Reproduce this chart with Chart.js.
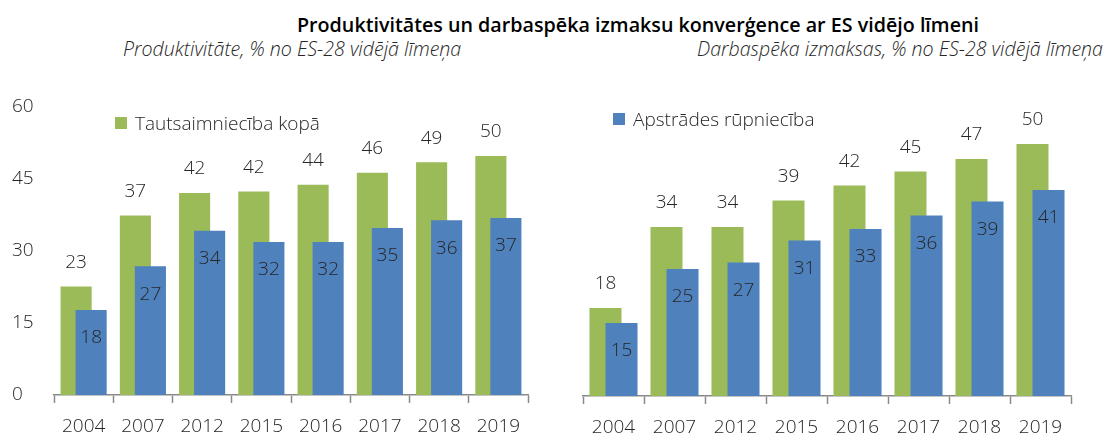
<!DOCTYPE html>
<html lang="lv">
<head>
<meta charset="UTF-8">
<title>Produktivitātes un darbaspēka izmaksu konverģence</title>
<script src="https://cdn.jsdelivr.net/npm/chart.js"></script>
<style>
body { margin: 0; background: #fff; font-family: "Open Sans", sans-serif; color: #262626; }
.wrap { position: relative; width: 1105px; height: 436px; overflow: hidden; }
.txt { position: absolute; white-space: nowrap; line-height: 1; }
.title { left: 297px; top: 15px; font-size: 19.7px; font-weight: 600; color: #000; }
.sub { top: 39px; font-size: 19.6px; font-style: italic; font-weight: 300; color: #262626; }
.legend { font-size: 19px; font-weight: 300; color: #262626; }
.legend i { display: inline-block; width: 12px; height: 12px; margin-right: 8px; vertical-align: 1px; }
.panel { position: absolute; top: 0; }
</style>
</head>
<body>
<div class="wrap">
    <div class="txt title">Produktivitātes un darbaspēka izmaksu konverģence ar ES vidējo līmeni</div>
    <div class="txt sub" style="left:123px">Produktivitāte, % no ES-28 vidējā līmeņa</div>
    <div class="txt sub" style="left:697px">Darbaspēka izmaksas, % no ES-28 vidējā līmeņa</div>

    <div class="panel" style="left:0"><canvas id="prodChart" width="555" height="436"></canvas></div>
    <div class="panel" style="left:555px"><canvas id="costChart" width="550" height="436"></canvas></div>

    <div class="txt legend" style="left:115px; top:114px"><i style="background:#9BBB59"></i>Tautsaimniecība kopā</div>
    <div class="txt legend" style="left:613px; top:110px"><i style="background:#4F81BD"></i>Apstrādes rūpniecība</div>
</div>
<script>
    const years = ['2004', '2007', '2012', '2015', '2016', '2017', '2018', '2019'];
    // Produktivitāte
    const prodTotal = [22.6, 37.4, 42.1, 42.4, 43.8, 46.3, 48.5, 49.8];
    const prodManuf = [17.7, 26.8, 34.2, 31.9, 31.9, 34.8, 36.4, 36.9];
    const prodTicks = [0, 15, 30, 45, 60];
    // Darbaspēka izmaksas
    const costTotal = [17.6, 33.8, 33.8, 39.1, 42.1, 44.9, 47.4, 50.4];
    const costManuf = [14.6, 25.4, 26.7, 31.1, 33.4, 36.1, 38.9, 41.2];
    const costMax = 57.8;

    const GREEN = '#9BBB59';
    const BLUE = '#4F81BD';
    const AXIS = '#898989';
    const TEXT = '#262626';
    const FONT = { family: '"Open Sans", sans-serif', size: 19, weight: 300 };

    // Chart.js zīmē pirmo datu kopu pēdējo - gribam zilo virspusē
    const blueOnTop = {
        id: 'blueOnTop',
        beforeDatasetDraw(chart, args) {
            if (args.index === 1) return false;
        },
        afterDatasetDraw(chart, args) {
            if (args.index === 0) chart.getDatasetMeta(1).controller.draw();
        }
    };

    // skaitļi virs zaļajiem un stabiņu iekšpusē zilajiem
    const valueLabels = {
        id: 'valueLabels',
        afterDatasetsDraw(chart) {
            const ctx = chart.ctx;
            ctx.save();
            ctx.font = '300 19px "Open Sans", sans-serif';
            ctx.fillStyle = TEXT;
            ctx.textAlign = 'center';
            ctx.textBaseline = 'middle';
            chart.data.datasets.forEach((ds, i) => {
                chart.getDatasetMeta(i).data.forEach((bar, j) => {
                    const y = i === 0 ? bar.y - 24 : bar.y + 28;
                    ctx.fillText(Math.round(ds.data[j]), bar.x, y);
                });
            });
            ctx.restore();
        }
    };

    function makeChart(id, total, manuf, opts) {
        return new Chart(document.getElementById(id), {
            type: 'bar',
            data: {
                labels: years,
                datasets: [
                    { label: 'Tautsaimniecība kopā', data: total, backgroundColor: GREEN },
                    { label: 'Apstrādes rūpniecība', data: manuf, backgroundColor: BLUE }
                ]
            },
            options: {
                responsive: false,
                animation: false,
                categoryPercentage: opts.cat,
                barPercentage: opts.bar,
                layout: { padding: opts.padding },
                plugins: { legend: { display: false }, tooltip: { enabled: false } },
                scales: {
                    x: {
                        grid: { display: true, drawOnChartArea: false, offset: true, tickLength: 8, tickColor: AXIS, tickWidth: 1.5 },
                        border: { display: true, color: AXIS, width: 1.5 },
                        ticks: { color: TEXT, font: FONT, padding: 12 },
                        afterFit(s) { s.height = opts.xHeight; }
                    },
                    y: opts.y
                }
            },
            plugins: [blueOnTop, valueLabels]
        });
    }

    makeChart('prodChart', prodTotal, prodManuf, {
        cat: 0.507, bar: 2.07, xHeight: 41,
        padding: { left: 12, top: 107, right: 27, bottom: 0 },
        y: {
            min: prodTicks[0], max: prodTicks[prodTicks.length - 1],
            grid: { display: false }, border: { display: false },
            afterBuildTicks(s) { s.ticks = prodTicks.map(v => ({ value: v })); },
            ticks: { color: TEXT, font: FONT, crossAlign: 'far', padding: 6 },
            afterFit(s) { s.width = 42; }
        }
    });

    makeChart('costChart', costTotal, costManuf, {
        cat: 0.525, bar: 2.0, xHeight: 40,
        padding: { left: 28, top: 107, right: 34, bottom: 0 },
        y: { display: false, min: 0, max: costMax }
    });
</script>
</body>
</html>
